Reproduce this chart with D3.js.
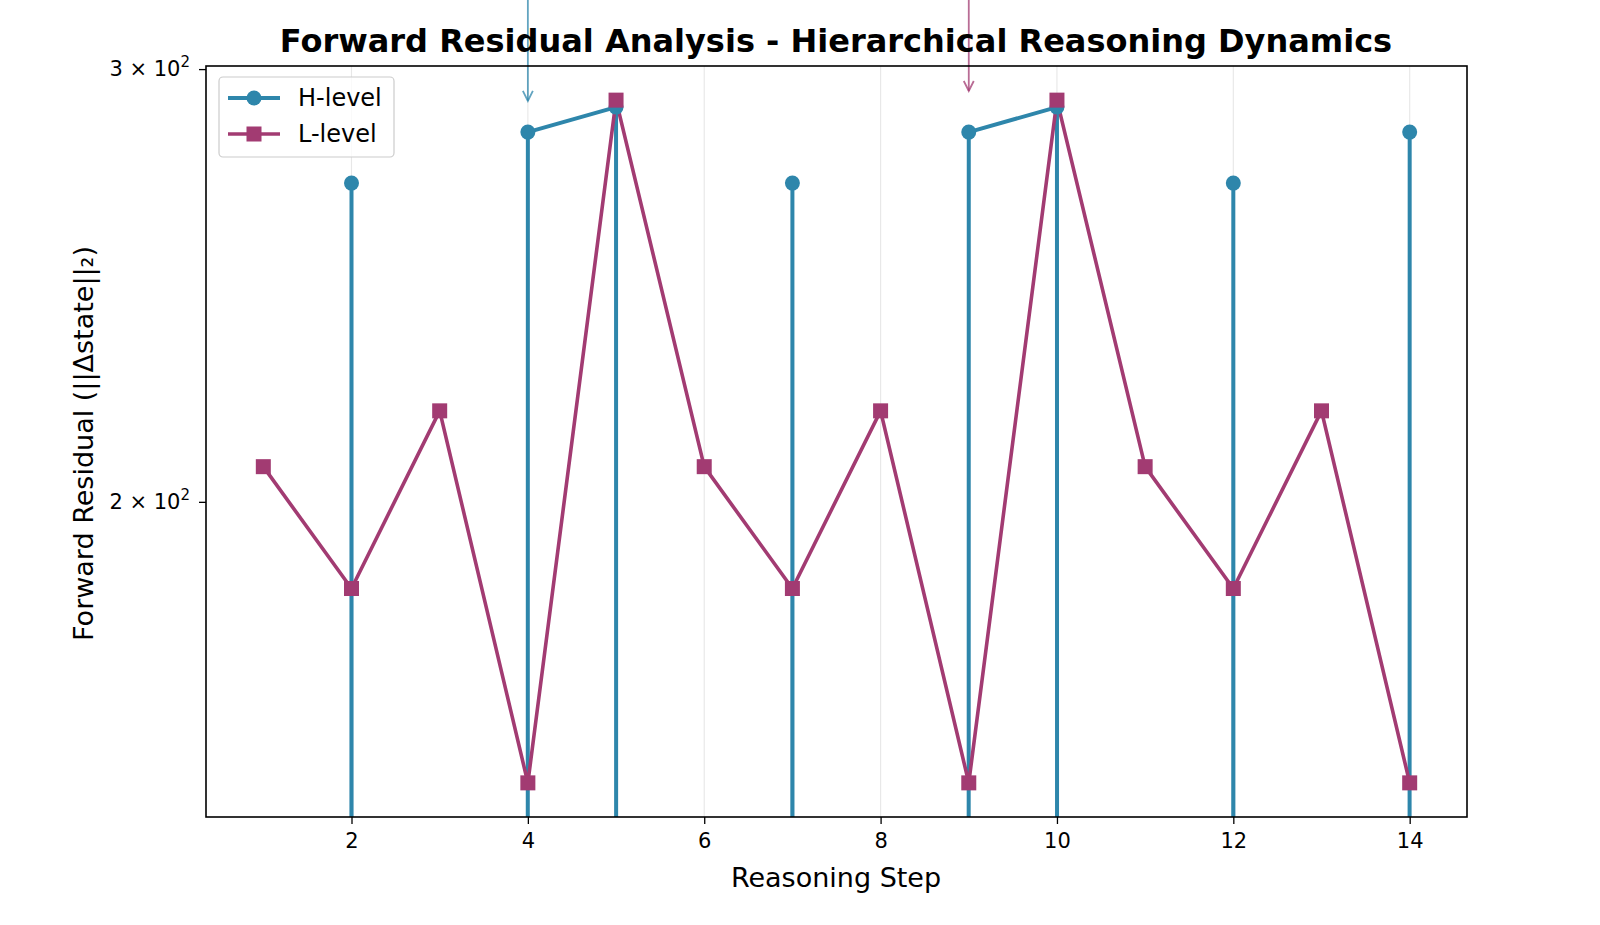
<!DOCTYPE html>
<html>
<head>
<meta charset="utf-8">
<script src="https://cdn.jsdelivr.net/npm/d3@7/dist/d3.min.js"></script>
<style>
  html, body { margin: 0; padding: 0; background: #fff; }
  svg { display: block; font-family: "DejaVu Sans", sans-serif; }
</style>
</head>
<body>
<svg id="chart" width="1600" height="925"></svg>
<script>
// ---- data ----
const steps = [1, 2, 3, 4, 5, 6, 7, 8, 9, 10, 11, 12, 13, 14];
const hLevel = [0, 269.6, 0, 282.8, 289.5, 0, 269.6, 0, 282.8, 289.5, 0, 269.6, 0, 282.8];
const lLevel = [206.7, 184.4, 217.8, 153.7, 291.4, 206.7, 184.4, 217.8, 153.7, 291.4, 206.7, 184.4, 217.8, 153.7];
const xTicks = [2, 4, 6, 8, 10, 12, 14];
const yTicks = [200, 300];
const yTickLabels = [["2", "2"], ["3", "2"]];
const seriesNames = ["H-level", "L-level"];
const seriesColors = ["#2E86AB", "#A23B72"];
const annotations = [
  { step: 4, value: 291.2, color: "#2E86AB" },
  { step: 9, value: 293.9, color: "#A23B72" }
];

// ---- layout ----
const svg = d3.select("#chart");
const L = 206, R = 1467, T = 66, B = 817;

const x = d3.scaleLinear().domain([0.35, 14.65]).range([L, R]);
const positives = hLevel.concat(lLevel).filter(v => v > 0);
const lo = Math.log10(d3.min(positives)), hi = Math.log10(d3.max(positives));
const pad = (hi - lo) * 0.05;
const y = d3.scaleLog().domain([Math.pow(10, lo - pad), Math.pow(10, hi + pad)]).range([B, T]);
const yv = v => y(v > 0 ? v : 1e-300);

svg.append("defs").append("clipPath").attr("id", "clip")
  .append("rect").attr("x", L).attr("y", T).attr("width", R - L).attr("height", B - T);

// grid (vertical, at major x ticks)
svg.append("g").selectAll("line").data(xTicks).join("line")
  .attr("x1", d => x(d)).attr("x2", d => x(d)).attr("y1", T).attr("y2", B)
  .attr("stroke", "#b0b0b0").attr("stroke-opacity", 0.3).attr("stroke-width", 1.1);

const plot = svg.append("g").attr("clip-path", "url(#clip)");

const hData = steps.map((s, i) => [s, hLevel[i]]);
const lData = steps.map((s, i) => [s, lLevel[i]]);
const line = d3.line().x(d => x(d[0])).y(d => yv(d[1]));

plot.append("path").datum(hData).attr("d", line)
  .attr("fill", "none").attr("stroke", seriesColors[0]).attr("stroke-width", 4)
  .attr("stroke-linejoin", "round");
plot.append("path").datum(lData).attr("d", line)
  .attr("fill", "none").attr("stroke", seriesColors[1]).attr("stroke-width", 3.6)
  .attr("stroke-linejoin", "round");

plot.append("g").selectAll("circle").data(hData.filter(d => d[1] > 0)).join("circle")
  .attr("cx", d => x(d[0])).attr("cy", d => yv(d[1])).attr("r", 7.5)
  .attr("fill", seriesColors[0]);
plot.append("g").selectAll("rect").data(lData).join("rect")
  .attr("x", d => x(d[0]) - 7.5).attr("y", d => yv(d[1]) - 7.5)
  .attr("width", 15).attr("height", 15).attr("fill", seriesColors[1]);

// annotations (arrows from above the figure)
annotations.forEach(a => {
  const ax = x(a.step), ay = y(a.value);
  const g = svg.append("g").attr("stroke", a.color).attr("stroke-opacity", 0.75)
    .attr("fill", "none").attr("stroke-width", 1.8);
  g.append("line").attr("x1", ax).attr("x2", ax).attr("y1", 0).attr("y2", ay);
  g.append("path").attr("d", `M${ax - 5},${ay - 10} L${ax},${ay} L${ax + 5},${ay - 10}`);
});

// axes frame
svg.append("rect").attr("x", L).attr("y", T).attr("width", R - L).attr("height", B - T)
  .attr("fill", "none").attr("stroke", "#000").attr("stroke-width", 1.6);

// x axis
const xAxis = d3.axisBottom(x).tickValues(xTicks).tickSize(7).tickPadding(9).tickFormat(d3.format("d"));
const gx = svg.append("g").attr("transform", `translate(0,${B})`).call(xAxis);
gx.select(".domain").remove();
gx.selectAll("line").attr("stroke", "#000").attr("stroke-width", 1.3);
gx.selectAll("text").attr("font-size", 21).attr("fill", "#000").attr("font-family", "DejaVu Sans");

// y axis
const yAxis = d3.axisLeft(y).tickValues(yTicks).tickSize(7).tickPadding(9).tickFormat(() => "");
const gy = svg.append("g").attr("transform", `translate(${L},0)`).call(yAxis);
gy.select(".domain").remove();
gy.selectAll("line").attr("stroke", "#000").attr("stroke-width", 1.3);
gy.selectAll(".tick text").each(function(d) {
  const t = d3.select(this).attr("font-size", 21).attr("fill", "#000")
    .attr("font-family", "DejaVu Sans").attr("dy", "0.32em");
  const lab = yTickLabels[yTicks.indexOf(d)];
  t.append("tspan").text(lab[0] + " × 10");
  t.append("tspan").attr("font-size", 15).attr("dy", "-0.6em").text(lab[1]);
});

// title & labels
svg.append("text").attr("x", 836).attr("y", 52).attr("text-anchor", "middle")
  .attr("font-size", 32).attr("font-weight", "bold").attr("fill", "#000")
  .text("Forward Residual Analysis - Hierarchical Reasoning Dynamics");
svg.append("text").attr("x", 836).attr("y", 887).attr("text-anchor", "middle")
  .attr("font-size", 27).attr("fill", "#000").text("Reasoning Step");
svg.append("text").attr("transform", `translate(93,${(T + B) / 2 + 2}) rotate(-90)`)
  .attr("text-anchor", "middle").attr("font-size", 27).attr("fill", "#000")
  .text("Forward Residual (||Δstate||₂)");

// legend
const lg = svg.append("g");
lg.append("rect").attr("x", 219).attr("y", 77).attr("width", 175).attr("height", 80)
  .attr("rx", 4).attr("fill", "#fff").attr("fill-opacity", 0.8)
  .attr("stroke", "#cccccc").attr("stroke-width", 1.2);
seriesNames.forEach((name, i) => {
  const cy = 98 + i * 36;
  lg.append("line").attr("x1", 228).attr("x2", 280).attr("y1", cy).attr("y2", cy)
    .attr("stroke", seriesColors[i]).attr("stroke-width", i === 0 ? 4 : 3.6);
  if (i === 0) {
    lg.append("circle").attr("cx", 254).attr("cy", cy).attr("r", 7.5).attr("fill", seriesColors[i]);
  } else {
    lg.append("rect").attr("x", 246.5).attr("y", cy - 7.5).attr("width", 15).attr("height", 15)
      .attr("fill", seriesColors[i]);
  }
  lg.append("text").attr("x", 298).attr("y", cy).attr("dy", "0.35em")
    .attr("font-size", 24).attr("fill", "#000").text(name);
});
</script>
</body>
</html>
